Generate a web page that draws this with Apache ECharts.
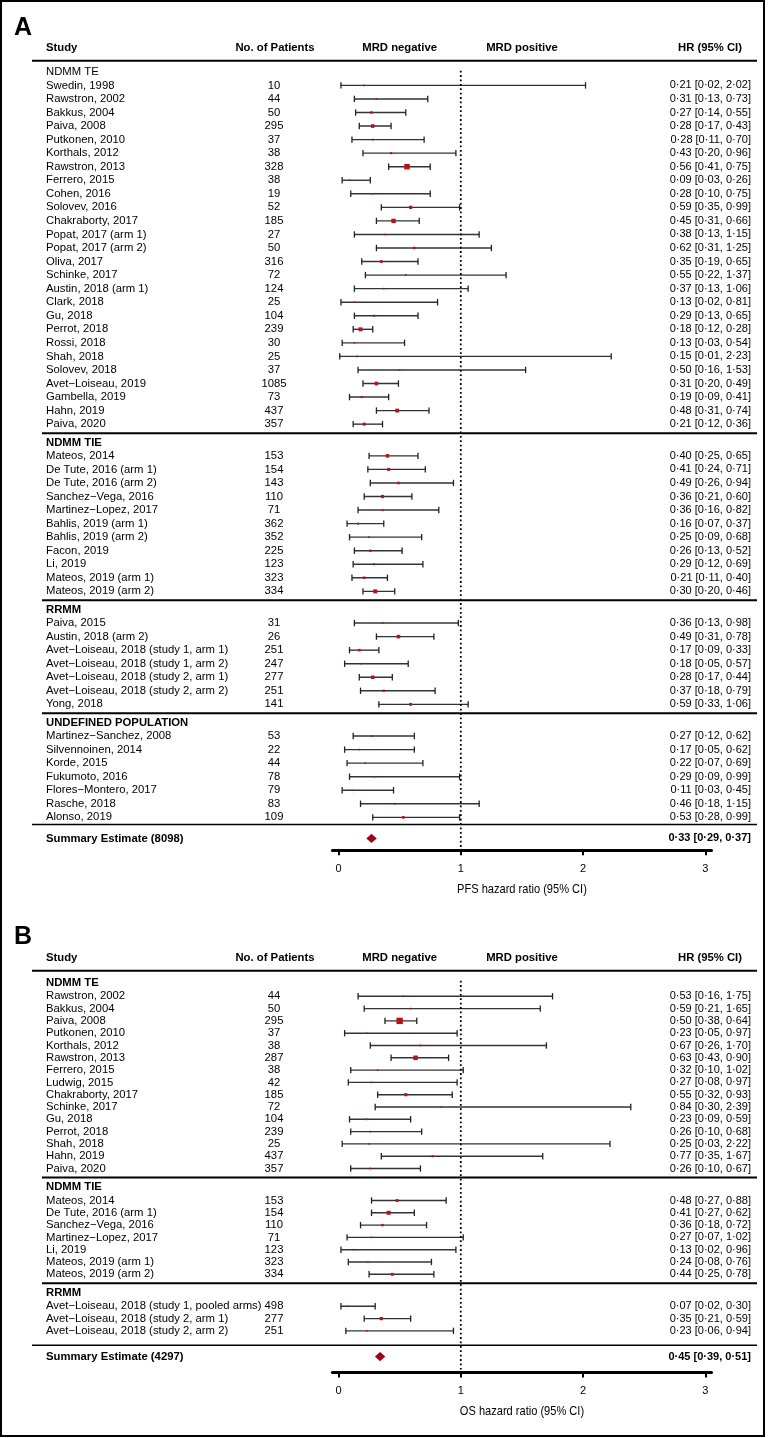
<!DOCTYPE html>
<html>
<head>
<meta charset="utf-8">
<script src="https://cdn.jsdelivr.net/npm/echarts@6/dist/echarts.min.js"></script>
<style>
  html, body { margin: 0; padding: 0; background: #fff; }
  #chart { width: 771px; height: 1438px; }
</style>
</head>
<body>
<div id="chart"></div>
<script>
// ---- A: progression-free survival ----
const pfsGroups = ['NDMM TE', 'NDMM TIE', 'RRMM', 'UNDEFINED POPULATION']
const pfsGroupSizes = [26, 11, 7, 7]
const pfsStudies = [
  'Swedin, 1998', 'Rawstron, 2002', 'Bakkus, 2004', 'Paiva, 2008', 'Putkonen, 2010', 'Korthals, 2012',
  'Rawstron, 2013', 'Ferrero, 2015', 'Cohen, 2016', 'Solovev, 2016', 'Chakraborty, 2017', 'Popat, 2017 (arm 1)',
  'Popat, 2017 (arm 2)', 'Oliva, 2017', 'Schinke, 2017', 'Austin, 2018 (arm 1)', 'Clark, 2018', 'Gu, 2018',
  'Perrot, 2018', 'Rossi, 2018', 'Shah, 2018', 'Solovev, 2018', 'Avet\u2212Loiseau, 2019', 'Gambella, 2019',
  'Hahn, 2019', 'Paiva, 2020',
  'Mateos, 2014', 'De Tute, 2016 (arm 1)', 'De Tute, 2016 (arm 2)', 'Sanchez\u2212Vega, 2016', 'Martinez\u2212Lopez, 2017',
  'Bahlis, 2019 (arm 1)', 'Bahlis, 2019 (arm 2)', 'Facon, 2019', 'Li, 2019', 'Mateos, 2019 (arm 1)', 'Mateos, 2019 (arm 2)',
  'Paiva, 2015', 'Austin, 2018 (arm 2)', 'Avet\u2212Loiseau, 2018 (study 1, arm 1)', 'Avet\u2212Loiseau, 2018 (study 1, arm 2)',
  'Avet\u2212Loiseau, 2018 (study 2, arm 1)', 'Avet\u2212Loiseau, 2018 (study 2, arm 2)', 'Yong, 2018',
  'Martinez\u2212Sanchez, 2008', 'Silvennoinen, 2014', 'Korde, 2015', 'Fukumoto, 2016', 'Flores\u2212Montero, 2017',
  'Rasche, 2018', 'Alonso, 2019'
]
const pfsPatients = [10, 44, 50, 295, 37, 38, 328, 38, 19, 52, 185, 27, 50, 316, 72, 124, 25, 104, 239, 30, 25, 37, 1085, 73, 437, 357,
  153, 154, 143, 110, 71, 362, 352, 225, 123, 323, 334,
  31, 26, 251, 247, 277, 251, 141,
  53, 22, 44, 78, 79, 83, 109]
const pfsHR = [0.21, 0.31, 0.27, 0.28, 0.28, 0.43, 0.56, 0.09, 0.28, 0.59, 0.45, 0.38, 0.62, 0.35, 0.55, 0.37, 0.13, 0.29, 0.18, 0.13, 0.15, 0.50, 0.31, 0.19, 0.48, 0.21,
  0.40, 0.41, 0.49, 0.36, 0.36, 0.16, 0.25, 0.26, 0.29, 0.21, 0.30,
  0.36, 0.49, 0.17, 0.18, 0.28, 0.37, 0.59,
  0.27, 0.17, 0.22, 0.29, 0.11, 0.46, 0.53]
const pfsLow = [0.02, 0.13, 0.14, 0.17, 0.11, 0.20, 0.41, 0.03, 0.10, 0.35, 0.31, 0.13, 0.31, 0.19, 0.22, 0.13, 0.02, 0.13, 0.12, 0.03, 0.01, 0.16, 0.20, 0.09, 0.31, 0.12,
  0.25, 0.24, 0.26, 0.21, 0.16, 0.07, 0.09, 0.13, 0.12, 0.11, 0.20,
  0.13, 0.31, 0.09, 0.05, 0.17, 0.18, 0.33,
  0.12, 0.05, 0.07, 0.09, 0.03, 0.18, 0.28]
const pfsHigh = [2.02, 0.73, 0.55, 0.43, 0.70, 0.96, 0.75, 0.26, 0.75, 0.99, 0.66, 1.15, 1.25, 0.65, 1.37, 1.06, 0.81, 0.65, 0.28, 0.54, 2.23, 1.53, 0.49, 0.41, 0.74, 0.36,
  0.65, 0.71, 0.94, 0.60, 0.82, 0.37, 0.68, 0.52, 0.69, 0.40, 0.46,
  0.98, 0.78, 0.33, 0.57, 0.44, 0.79, 1.06,
  0.62, 0.62, 0.69, 0.99, 0.45, 1.15, 0.99]
const pfsSummaryN = 8098
const pfsSummary = [0.33, 0.29, 0.37]
const pfsDiamondAt = 0.27 // where the diamond sits in the picture

// ---- B: overall survival ----
const osGroups = ['NDMM TE', 'NDMM TIE', 'RRMM']
const osGroupSizes = [15, 7, 3]
const osStudies = [
  'Rawstron, 2002', 'Bakkus, 2004', 'Paiva, 2008', 'Putkonen, 2010', 'Korthals, 2012', 'Rawstron, 2013', 'Ferrero, 2015',
  'Ludwig, 2015', 'Chakraborty, 2017', 'Schinke, 2017', 'Gu, 2018', 'Perrot, 2018', 'Shah, 2018', 'Hahn, 2019', 'Paiva, 2020',
  'Mateos, 2014', 'De Tute, 2016 (arm 1)', 'Sanchez\u2212Vega, 2016', 'Martinez\u2212Lopez, 2017', 'Li, 2019',
  'Mateos, 2019 (arm 1)', 'Mateos, 2019 (arm 2)',
  'Avet\u2212Loiseau, 2018 (study 1, pooled arms)', 'Avet\u2212Loiseau, 2018 (study 2, arm 1)', 'Avet\u2212Loiseau, 2018 (study 2, arm 2)'
]
const osPatients = [44, 50, 295, 37, 38, 287, 38, 42, 185, 72, 104, 239, 25, 437, 357,
  153, 154, 110, 71, 123, 323, 334,
  498, 277, 251]
const osHR = [0.53, 0.59, 0.50, 0.23, 0.67, 0.63, 0.32, 0.27, 0.55, 0.84, 0.23, 0.26, 0.25, 0.77, 0.26,
  0.48, 0.41, 0.36, 0.27, 0.13, 0.24, 0.44,
  0.07, 0.35, 0.23]
const osLow = [0.16, 0.21, 0.38, 0.05, 0.26, 0.43, 0.10, 0.08, 0.32, 0.30, 0.09, 0.10, 0.03, 0.35, 0.10,
  0.27, 0.27, 0.18, 0.07, 0.02, 0.08, 0.25,
  0.02, 0.21, 0.06]
const osHigh = [1.75, 1.65, 0.64, 0.97, 1.70, 0.90, 1.02, 0.97, 0.93, 2.39, 0.59, 0.68, 2.22, 1.67, 0.67,
  0.88, 0.62, 0.72, 1.02, 0.96, 0.76, 0.78,
  0.30, 0.59, 0.94]
const osSummaryN = 4297
const osSummary = [0.45, 0.39, 0.51]
const osDiamondAt = 0.34

const xTicks = [0, 1, 2, 3]

// ---- layout ----
const FONT = "'Liberation Sans', Arial, Helvetica, sans-serif"
const BOX = '#b5121b'
const DIAMOND = '#a3001e'
const COL_NAME = 46
const COL_N = 274
const COL_HR = 751
const RULE_L = 32
const SEP_L = 42
const RULE_R = 757

const cfgA = {
  top: 60.7, firstHead: 11.3, headToStudy: 13.4, rowH: 13.55, toSep: 9, sepToHead: 9.3,
  toSumLine: 7.1, toSum: 14, toAxis: 11.7, boldGroups: [false, true, true, true],
  title: 'PFS hazard ratio (95% CI)'
}
const cfgB = {
  top: 970.7, firstHead: 12, headToStudy: 13.6, rowH: 12.3, toSep: 9, sepToHead: 9.4,
  toSumLine: 14.4, toSum: 11.3, toAxis: 16, boldGroups: [true, true, true],
  title: 'OS hazard ratio (95% CI)'
}

const fmt = v => v.toFixed(2).replace('.', '\u00b7')
const ciText = (hr, lo, hi) => `${fmt(hr)} [${fmt(lo)}, ${fmt(hi)}]`

// rows in pixel offsets below the header rule
function buildRows (cfg, groups, sizes, studies, n, hr, lo, hi, sumN, sum, diamondAt) {
  const rows = [{ kind: 'header', y: -13 }, { kind: 'rule', y: 0, x0: RULE_L }]
  let y = cfg.firstHead
  let k = 0
  groups.forEach((g, gi) => {
    if (gi > 0) {
      y += cfg.toSep
      rows.push({ kind: 'rule', y, x0: SEP_L })
      y += cfg.sepToHead
    }
    rows.push({ kind: 'group', y, text: g, bold: cfg.boldGroups[gi] })
    y += cfg.headToStudy
    for (let j = 0; j < sizes[gi]; j++, k++) {
      if (j > 0) y += cfg.rowH
      rows.push({ kind: 'study', y, name: studies[k], n: n[k], hr: hr[k], lo: lo[k], hi: hi[k] })
    }
  })
  y += cfg.toSumLine
  rows.push({ kind: 'rule', y, x0: RULE_L, w: 1.6 })
  y += cfg.toSum
  rows.push({ kind: 'summary', y, name: `Summary Estimate (${sumN})`, hr: sum[0], lo: sum[1], hi: sum[2], at: diamondAt })
  y += cfg.toAxis
  rows.push({ kind: 'ref', y: 10, y2: y })
  rows.push({ kind: 'title', y: y + 39, text: cfg.title })
  return { rows, height: y }
}

const panelA = buildRows(cfgA, pfsGroups, pfsGroupSizes, pfsStudies, pfsPatients, pfsHR, pfsLow, pfsHigh, pfsSummaryN, pfsSummary, pfsDiamondAt)
const panelB = buildRows(cfgB, osGroups, osGroupSizes, osStudies, osPatients, osHR, osLow, osHigh, osSummaryN, osSummary, osDiamondAt)

const txt = (text, x, y, align, size, weight) => ({
  type: 'text',
  style: {
    text, x, y, align, verticalAlign: 'middle', fill: '#000',
    fontSize: size || 11.3, fontWeight: weight || 'normal', fontFamily: FONT
  }
})

function makeRender (rows) {
  return function (params, api) {
    const r = rows[params.dataIndex]
    const py = api.coord([0, r.y])[1]
    const X = v => api.coord([v, r.y])[0]
    const out = []
    if (r.kind === 'header') {
      out.push(txt('Study', COL_NAME, py, 'left', 11.3, 'bold'))
      out.push(txt('No. of Patients', COL_N + 1, py, 'center', 11.3, 'bold'))
      out.push(txt('MRD negative', X(0.5), py, 'center', 11.3, 'bold'))
      out.push(txt('MRD positive', X(1.5), py, 'center', 11.3, 'bold'))
      out.push(txt('HR (95% CI)', 742, py, 'right', 11.3, 'bold'))
    } else if (r.kind === 'rule') {
      out.push({ type: 'line', shape: { x1: r.x0, y1: py, x2: RULE_R, y2: py }, style: { stroke: '#000', lineWidth: r.w || 2 } })
    } else if (r.kind === 'group') {
      out.push(txt(r.text, COL_NAME, py, 'left', 11.3, r.bold ? 'bold' : 'normal'))
    } else if (r.kind === 'study') {
      const x1 = X(r.lo), x2 = X(r.hi), cx = X(r.hr)
      const se = (Math.log(r.hi) - Math.log(r.lo)) / 3.92
      const s = Math.max(1.6, Math.min(7, 0.85 / se))
      out.push(txt(r.name, COL_NAME, py, 'left'))
      out.push(txt(String(r.n), COL_N, py, 'center'))
      out.push(txt(ciText(r.hr, r.lo, r.hi), COL_HR, py, 'right', 11))
      out.push({ type: 'line', shape: { x1, y1: py, x2, y2: py }, style: { stroke: '#333', lineWidth: 1.4 } })
      out.push({ type: 'line', shape: { x1, y1: py - 3.2, x2: x1, y2: py + 3.2 }, style: { stroke: '#222', lineWidth: 1.3 } })
      out.push({ type: 'line', shape: { x1: x2, y1: py - 3.2, x2, y2: py + 3.2 }, style: { stroke: '#222', lineWidth: 1.3 } })
      out.push({ type: 'rect', shape: { x: cx - s / 2, y: py - s / 2, width: s, height: s }, style: { fill: BOX } })
    } else if (r.kind === 'summary') {
      const cx = X(r.at)
      out.push(txt(r.name, COL_NAME, py, 'left', 11.3, 'bold'))
      out.push(txt(ciText(r.hr, r.lo, r.hi), COL_HR, py, 'right', 11, 'bold'))
      out.push({
        type: 'polygon',
        shape: { points: [[cx - 5.2, py], [cx, py - 4.6], [cx + 5.2, py], [cx, py + 4.6]] },
        style: { fill: DIAMOND }
      })
    } else if (r.kind === 'ref') {
      const y2 = api.coord([0, r.y2])[1]
      out.push({ type: 'line', shape: { x1: X(1), y1: py, x2: X(1), y2: y2 - 3 }, style: { stroke: '#000', lineWidth: 1.8, lineDash: [1.8, 2.6] } })
    } else if (r.kind === 'title') {
      // condensed axis title
      out.push({
        type: 'text', x: X(1.5), y: py, scaleX: 0.82,
        style: { text: r.text, x: 0, y: 0, align: 'center', verticalAlign: 'middle', fill: '#000', fontSize: 13.5, fontFamily: FONT }
      })
    }
    return { type: 'group', children: out }
  }
}

// x scale: 0 at 338.5px, 122.3px per unit, axis line overhanging by 0.05
const X0 = 338.5, UNIT = 122.3, PAD = 0.05
const gridFor = (cfg, panel) => ({
  left: X0 - PAD * UNIT, width: (3 + 2 * PAD) * UNIT, top: cfg.top, height: panel.height
})
const xAxisFor = gi => ({
  type: 'value', gridIndex: gi, min: -PAD, max: 3 + PAD, position: 'bottom',
  axisLine: { show: true, onZero: false, lineStyle: { color: '#000', width: 3 } },
  axisTick: { show: true, length: 5, lineStyle: { color: '#000', width: 2 }, customValues: xTicks },
  axisLabel: { customValues: xTicks, margin: 13, fontFamily: FONT, fontSize: 11, color: '#000' },
  splitLine: { show: false }
})
const yAxisFor = (panel, gi) => ({
  type: 'value', gridIndex: gi, min: 0, max: panel.height, inverse: true, show: false
})

const chart = echarts.init(document.getElementById('chart'), null, { renderer: 'canvas' })
chart.setOption({
  animation: false,
  backgroundColor: '#fff',
  grid: [gridFor(cfgA, panelA), gridFor(cfgB, panelB)],
  xAxis: [xAxisFor(0), xAxisFor(1)],
  yAxis: [yAxisFor(panelA, 0), yAxisFor(panelB, 1)],
  graphic: [
    { type: 'rect', shape: { x: 1, y: 1, width: 763, height: 1435 }, style: { fill: 'none', stroke: '#000', lineWidth: 2 } },
    { type: 'text', x: 14, y: 28, style: { text: 'A', fontSize: 25, fontWeight: 'bold', fontFamily: FONT, fill: '#000', verticalAlign: 'middle' } },
    { type: 'text', x: 14, y: 937, style: { text: 'B', fontSize: 25, fontWeight: 'bold', fontFamily: FONT, fill: '#000', verticalAlign: 'middle' } }
  ],
  series: [
    {
      type: 'custom', xAxisIndex: 0, yAxisIndex: 0, clip: false, silent: true,
      data: panelA.rows.map(r => [0, r.y]),
      renderItem: makeRender(panelA.rows)
    },
    {
      type: 'custom', xAxisIndex: 1, yAxisIndex: 1, clip: false, silent: true,
      data: panelB.rows.map(r => [0, r.y]),
      renderItem: makeRender(panelB.rows)
    }
  ]
})
</script>
</body>
</html>
